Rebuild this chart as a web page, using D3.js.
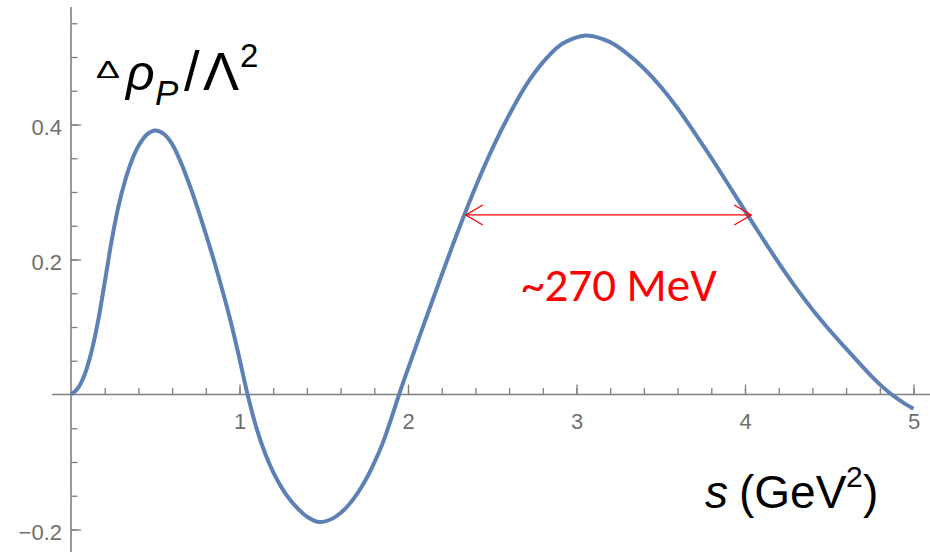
<!DOCTYPE html>
<html>
<head>
<meta charset="utf-8">
<script src="https://cdn.jsdelivr.net/npm/d3@7"></script>
<style>
  html, body { margin: 0; padding: 0; background: #ffffff; }
  svg { display: block; }
</style>
</head>
<body>
<svg id="chart" width="930" height="552"></svg>
<script>
// Spectral density difference Δρ_P/Λ² against s (GeV²)
const sValues = [0, 0.04, 0.08, 0.12, 0.16, 0.20, 0.24, 0.28, 0.32, 0.36, 0.40, 0.45, 0.50, 0.55, 0.60, 0.65, 0.70, 0.75, 0.80, 0.85, 0.90, 0.95, 1.00, 1.048, 1.10, 1.15, 1.20, 1.25, 1.30, 1.35, 1.40, 1.47, 1.55, 1.60, 1.65, 1.70, 1.75, 1.80, 1.85, 1.90, 1.947, 2.00, 2.10, 2.20, 2.30, 2.40, 2.50, 2.60, 2.70, 2.80, 2.90, 3.00, 3.06, 3.20, 3.30, 3.40, 3.50, 3.60, 3.70, 3.80, 3.90, 4.00, 4.10, 4.20, 4.30, 4.40, 4.50, 4.60, 4.70, 4.75, 4.80, 4.85, 4.90, 4.95, 5.00];
const rhoValues = [0, 0.009, 0.029, 0.062, 0.108, 0.166, 0.226, 0.277, 0.316, 0.346, 0.368, 0.385, 0.391, 0.386, 0.371, 0.345, 0.313, 0.277, 0.238, 0.197, 0.153, 0.106, 0.053, 0, -0.049, -0.086, -0.115, -0.138, -0.156, -0.170, -0.181, -0.189, -0.184, -0.1755, -0.163, -0.1465, -0.126, -0.101, -0.072, -0.036, 0, 0.038, 0.108, 0.177, 0.244, 0.307, 0.364, 0.414, 0.458, 0.492, 0.517, 0.529, 0.532, 0.522, 0.505, 0.483, 0.456, 0.424, 0.388, 0.3505, 0.3115, 0.272, 0.233, 0.195, 0.159, 0.126, 0.096, 0.068, 0.0405, 0.0271, 0.015, 0.0041, -0.0055, -0.0139, -0.021];

// Axis ticks
const xMajorTicks = [1, 2, 3, 4, 5];
const xMinorTicks = d3.range(1, 26).map(i => i * 0.2);
const yMajorTicks = [-0.2, 0.2, 0.4];
const yMinorTicks = d3.range(-4, 12).filter(i => i !== 0).map(i => i * 0.05);

// Width annotation between the two crossings of the upper lobe
const widthSpan = [2.343, 4.037];
const widthLevel = 0.266;
const widthLabel = "~270 MeV";

const svg = d3.select("#chart");

const x = d3.scaleLinear().domain([0, 5]).range([71, 913.5]);
const y = d3.scaleLinear().domain([0, 0.4]).range([394.5, 124.5]);

const axisColor = "#7f7f7f";
const labelColor = "#6f6f6f";
const sans = "Liberation Sans, Arial, sans-serif";

// axis lines
svg.append("line")
  .attr("x1", x(-0.113)).attr("x2", 930)
  .attr("y1", y(0)).attr("y2", y(0))
  .attr("stroke", axisColor).attr("stroke-width", 1.6);
svg.append("line")
  .attr("x1", x(0)).attr("x2", x(0))
  .attr("y1", y(0.574)).attr("y2", 552)
  .attr("stroke", axisColor).attr("stroke-width", 1.6);

// x axis: minor ticks
svg.append("g")
  .attr("transform", `translate(0,${y(0)})`)
  .call(d3.axisBottom(x).tickValues(xMinorTicks).tickSize(-6.5).tickFormat(""))
  .call(g => g.select(".domain").remove())
  .call(g => g.selectAll("line").attr("stroke", axisColor).attr("stroke-width", 1.3));

// x axis: major ticks with labels
svg.append("g")
  .attr("transform", `translate(0,${y(0)})`)
  .call(d3.axisBottom(x).tickValues(xMajorTicks).tickSize(-10).tickPadding(19).tickFormat(d3.format("d")))
  .call(g => g.select(".domain").remove())
  .call(g => g.selectAll("line").attr("stroke", axisColor).attr("stroke-width", 1.3))
  .call(g => g.selectAll("text")
    .attr("fill", labelColor)
    .attr("font-family", sans)
    .attr("font-size", 22));

// y axis: minor ticks
svg.append("g")
  .attr("transform", `translate(${x(0)},0)`)
  .call(d3.axisLeft(y).tickValues(yMinorTicks).tickSize(-6.5).tickFormat(""))
  .call(g => g.select(".domain").remove())
  .call(g => g.selectAll("line").attr("stroke", axisColor).attr("stroke-width", 1.3));

// y axis: major ticks with labels
svg.append("g")
  .attr("transform", `translate(${x(0)},0)`)
  .call(d3.axisLeft(y).tickValues(yMajorTicks).tickSize(-10).tickPadding(9).tickFormat(d3.format(".1f")))
  .call(g => g.select(".domain").remove())
  .call(g => g.selectAll("line").attr("stroke", axisColor).attr("stroke-width", 1.3))
  .call(g => g.selectAll("text")
    .attr("fill", labelColor)
    .attr("dy", "0.44em")
    .attr("font-family", sans)
    .attr("font-size", 22));

// the curve
const pts = sValues.map((s, i) => [s, rhoValues[i]]);
const line = d3.line()
  .x(d => x(d[0]))
  .y(d => y(d[1]))
  .curve(d3.curveCatmullRom.alpha(0.5));
svg.append("path")
  .datum(pts)
  .attr("d", line)
  .attr("fill", "none")
  .attr("stroke", "#5e81b5")
  .attr("stroke-width", 4)
  .attr("stroke-linejoin", "round");

// double-headed width arrow
const red = "#ff0000";
const ax1 = x(widthSpan[0]), ax2 = x(widthSpan[1]), ay = y(widthLevel);
const arrow = svg.append("g")
  .attr("stroke", red).attr("stroke-width", 1.3).attr("fill", "none");
arrow.append("line").attr("x1", ax1).attr("x2", ax2).attr("y1", ay).attr("y2", ay);
arrow.append("path").attr("d", `M${ax1 + 17},${ay - 10}L${ax1},${ay}L${ax1 + 17},${ay + 10}`);
arrow.append("path").attr("d", `M${ax2 - 17},${ay - 10}L${ax2},${ay}L${ax2 - 17},${ay + 10}`);

svg.append("text")
  .attr("x", 619).attr("y", 301)
  .attr("text-anchor", "middle")
  .attr("fill", red)
  .attr("font-family", "Carlito, Lato, 'Open Sans', sans-serif")
  .attr("font-size", 47)
  .text(widthLabel);

// y axis title: Δρ_P / Λ²
const title = svg.append("g").attr("fill", "#000").attr("font-family", sans);
title.append("text").attr("transform", "translate(96,78) scale(1.55,1)").attr("font-size", 23).text("Δ");
title.append("text").attr("x", 126).attr("y", 90).attr("font-size", 50).attr("font-style", "italic").text("ρ");
title.append("text").attr("x", 155).attr("y", 105).attr("font-size", 35).attr("font-style", "italic").text("P");
title.append("text").attr("x", 184).attr("y", 90).attr("font-size", 56).text("/");
title.append("text").attr("x", 203).attr("y", 90).attr("font-size", 54).text("Λ");
title.append("text").attr("x", 240).attr("y", 67).attr("font-size", 33).text("2");

// x axis title: s (GeV²)
const xt = svg.append("g").attr("fill", "#000").attr("font-family", sans);
xt.append("text").attr("x", 705).attr("y", 508).attr("font-size", 46).attr("font-style", "italic").text("s");
xt.append("text").attr("x", 739).attr("y", 508).attr("font-size", 46).text("(GeV");
xt.append("text").attr("x", 846).attr("y", 487).attr("font-size", 30).text("2");
xt.append("text").attr("x", 863).attr("y", 508).attr("font-size", 46).text(")");
</script>
</body>
</html>
